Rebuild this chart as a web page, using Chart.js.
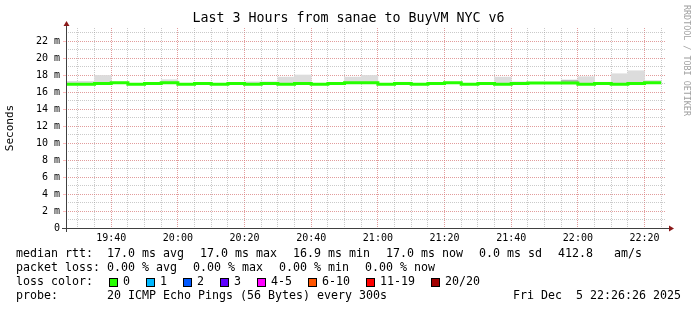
<!DOCTYPE html>
<html><head><meta charset="utf-8">
<script src="https://cdn.jsdelivr.net/npm/chart.js@4.4.1/dist/chart.umd.min.js"></script>
<style>html,body{margin:0;padding:0;background:#fff;overflow:hidden}#wrap{position:relative;width:697px;height:310px}</style>
</head><body><div id="wrap"><canvas id="c" width="697" height="310"></canvas></div>
<script>
const chartTitle = 'Last 3 Hours from sanae to BuyVM NYC v6';
const yAxisTitle = 'Seconds';
const sideText = 'RRDTOOL / TOBI OETIKER';
const axisStart = '19:26:26';
const axisEnd = '22:26:26';
const stepMinutes = 5;

const intervalStarts = ['19:25','19:30','19:35','19:40','19:45','19:50','19:55','20:00','20:05','20:10','20:15','20:20',
  '20:25','20:30','20:35','20:40','20:45','20:50','20:55','21:00','21:05','21:10','21:15','21:20',
  '21:25','21:30','21:35','21:40','21:45','21:50','21:55','22:00','22:05','22:10','22:15','22:20'];
const medianRtt = [16.9,16.9,17.0,17.1,16.9,17.0,17.1,16.9,17.0,16.9,17.0,16.9,
  17.0,16.9,17.0,16.9,17.0,17.1,17.1,16.9,17.0,16.9,17.0,17.1,
  16.9,17.0,16.9,17.0,17.05,17.05,17.05,16.9,17.0,16.9,17.0,17.1];
const smokeTop = [17.25,17.25,17.95,null,null,null,17.45,null,null,null,null,17.2,
  17.2,17.75,18.0,null,null,17.75,17.95,null,17.15,null,null,null,
  null,null,17.75,17.2,null,null,null,17.8,17.15,18.15,18.5,17.35];
const denseSmokeLow = [null,null,null,null,null,null,null,null,null,null,null,null,
  null,null,null,null,null,null,null,null,null,null,null,null,
  null,null,null,null,null,null,17.1,null,null,null,null,null];
const denseSmokeTop = [null,null,null,null,null,null,null,null,null,null,null,null,
  null,null,null,null,null,null,null,null,null,null,null,null,
  null,null,null,null,null,null,17.4,null,null,null,null,null];

const xTickLabels = ['19:40','20:00','20:20','20:40','21:00','21:20','21:40','22:00','22:20'];
const yTickValues = [0,2,4,6,8,10,12,14,16,18,20,22];
const yMinorValues = [0,1,2,3,4,5,6,7,8,9,10,11,12,13,14,15,16,17,18,19,20,21,22,23];
const yMax = 23.53;

const rttLabel = 'median rtt:';
const rttItems = ['17.0 ms avg','17.0 ms max','16.9 ms min','17.0 ms now','0.0 ms sd','412.8   am/s'];
const lossLabel = 'packet loss:';
const lossItems = ['0.00 % avg','0.00 % max','0.00 % min','0.00 % now'];
const lossColorLabel = 'loss color:';
const lossColorNames = ['0','1','2','3','4-5','6-10','11-19','20/20'];
const lossColorValues = ['#26ff00','#00b8ff','#0059ff','#5e00ff','#ff00ff','#ff5500','#ff0000','#a10000'];
const probeLabel = 'probe:';
const probeText = '20 ICMP Echo Pings (56 Bytes) every 300s';
const stampText = 'Fri Dec  5 22:26:26 2025';

function toMin(s){const p=s.split(':').map(Number);return p[0]*60+p[1]+(p[2]||0)/60;}
function fmt(m){const h=Math.floor(m/60), mm=Math.round(m-h*60);return String(h).padStart(2,'0')+':'+String(mm).padStart(2,'0');}

const medianPts = intervalStarts.map((t,i)=>({x:toMin(t),y:medianRtt[i]}));
medianPts.push({x:toMin(intervalStarts[intervalStarts.length-1])+stepMinutes,y:medianRtt[medianRtt.length-1]});
const smokePts = [];
intervalStarts.forEach((t,i)=>{ if(smokeTop[i]!=null) smokePts.push({x:toMin(t)+stepMinutes/2,y:[medianRtt[i]-0.05,smokeTop[i]]}); });
const densePts = [];
intervalStarts.forEach((t,i)=>{ if(denseSmokeTop[i]!=null) densePts.push({x:toMin(t)+stepMinutes/2,y:[denseSmokeLow[i],denseSmokeTop[i]]}); });

const MONO = "'DejaVu Sans Mono', monospace";
const minorGrid = 'rgba(150,150,150,0.5)';
const majorGrid = 'rgba(255,100,100,0.45)';

const decor = {
  id:'decor',
  afterDatasetsDraw(chart){
    const {ctx, chartArea:a} = chart;
    ctx.save();
    ctx.strokeStyle='#404040'; ctx.lineWidth=1;
    ctx.beginPath();
    ctx.moveTo(a.left-4, a.bottom+0.5); ctx.lineTo(a.right+4, a.bottom+0.5);
    ctx.moveTo(a.left+0.5, a.bottom+4); ctx.lineTo(a.left+0.5, a.top-3);
    ctx.stroke();
    ctx.fillStyle='#8b1a1a';
    ctx.beginPath();
    ctx.moveTo(a.right+3, a.bottom-2.5); ctx.lineTo(a.right+8, a.bottom+0.5); ctx.lineTo(a.right+3, a.bottom+3.5); ctx.closePath(); ctx.fill();
    ctx.beginPath();
    ctx.moveTo(a.left-2.5, a.top-2); ctx.lineTo(a.left+0.5, a.top-7); ctx.lineTo(a.left+3.5, a.top-2); ctx.closePath(); ctx.fill();
    ctx.restore();
  },
  afterDraw(chart){
    const ctx = chart.ctx;
    ctx.save();
    ctx.fillStyle='#000';
    ctx.textBaseline='middle';
    ctx.textAlign='center';
    ctx.font = "13.3px " + MONO;
    ctx.fillText(chartTitle, 348.5, 19);
    ctx.textAlign='left';
    ctx.font = "11.63px " + MONO;
    const P = 7, GAP = 16;
    let y = 254;
    ctx.fillText(rttLabel, 16, y);
    let x = 107;
    rttItems.forEach(s=>{ ctx.fillText(s, x, y); x += s.length*P + GAP; });
    y = 268;
    ctx.fillText(lossLabel, 16, y);
    x = 107;
    lossItems.forEach(s=>{ ctx.fillText(s, x, y); x += s.length*P + GAP; });
    y = 282;
    ctx.fillText(lossColorLabel, 16, y);
    x = 109;
    lossColorNames.forEach((s,i)=>{
      ctx.fillStyle = lossColorValues[i];
      ctx.fillRect(x, y-4, 8, 8);
      ctx.strokeStyle='#000'; ctx.lineWidth=1;
      ctx.strokeRect(x+0.5, y-3.5, 8, 8);
      ctx.fillStyle='#000';
      ctx.fillText(s, x+14, y);
      x += 14 + s.length*P + GAP;
    });
    y = 296;
    ctx.fillText(probeLabel, 16, y);
    ctx.fillText(probeText, 107, y);
    ctx.textAlign='right';
    ctx.fillText(stampText, 681, y);
    ctx.translate(686, 5);
    ctx.rotate(Math.PI/2);
    ctx.textAlign='left';
    ctx.fillStyle='#a0a0a0';
    ctx.font = "8.4px " + MONO;
    ctx.fillText(sideText, 0, 0);
    ctx.restore();
  }
};

new Chart(document.getElementById('c'), {
  type:'line',
  data:{datasets:[
    {type:'line', label:'median', data:medianPts, stepped:'before', borderColor:'#26ff00', borderWidth:3, pointRadius:0, fill:false, order:0, xAxisID:'x', yAxisID:'y'},
    {type:'bar', label:'dense', data:densePts, backgroundColor:'#b4b4b4', borderWidth:0, barPercentage:1, categoryPercentage:1, grouped:false, order:1, xAxisID:'x', yAxisID:'y'},
    {type:'bar', label:'smoke', data:smokePts, backgroundColor:'#dcdcdc', borderWidth:0, barPercentage:1, categoryPercentage:1, grouped:false, order:2, xAxisID:'x', yAxisID:'y'}
  ]},
  options:{
    responsive:false, animation:false, devicePixelRatio:1,
    layout:{padding:{top:28,right:31,left:0,bottom:0}},
    plugins:{legend:{display:false}, tooltip:{enabled:false}, title:{display:false}},
    scales:{
      xMinor:{type:'linear', position:'bottom', min:toMin(axisStart), max:toMin(axisEnd), offset:false, z:-1,
        afterBuildTicks(s){ const t=[]; for(const st of intervalStarts){ const v=toMin(st); if(v>s.min && v<s.max) t.push({value:v}); } const e=toMin(intervalStarts[intervalStarts.length-1])+stepMinutes; if(e<s.max) t.push({value:e}); s.ticks=t; },
        afterFit(s){ s.height=0; },
        ticks:{display:false}, grid:{color:minorGrid, drawTicks:false, offset:false}, border:{display:false, dash:[1,1]}},
      x:{type:'linear', position:'bottom', min:toMin(axisStart), max:toMin(axisEnd), offset:false,
        afterBuildTicks(s){ s.ticks = xTickLabels.map(l=>({value:toMin(l)})); },
        afterFit(s){ s.height=82; },
        ticks:{autoSkip:false, maxRotation:0, padding:2, color:'#000', font:{family:MONO, size:10}, callback:(v)=>fmt(v)},
        grid:{color:majorGrid, drawTicks:true, tickLength:2, tickColor:'rgba(0,0,0,0)', offset:false}, border:{display:false, dash:[1,1]}},
      yMinor:{type:'linear', position:'left', min:0, max:yMax, z:-1,
        afterBuildTicks(s){ s.ticks = yMinorValues.map(v=>({value:v})); },
        afterFit(s){ s.width=0; },
        ticks:{display:false}, grid:{color:minorGrid, drawTicks:false}, border:{display:false, dash:[1,1]}},
      y:{type:'linear', position:'left', min:0, max:yMax,
        afterBuildTicks(s){ s.ticks = yTickValues.map(v=>({value:v})); },
        afterFit(s){ s.width=66; },
        ticks:{autoSkip:false, padding:3, color:'#000', font:{family:MONO, size:10}, callback:(v)=> v===0?'0':v+' m'},
        title:{display:true, text:yAxisTitle, color:'#000', font:{family:MONO, size:11}, padding:{top:4,bottom:0}},
        grid:{color:majorGrid, drawTicks:true, tickLength:3, tickColor:majorGrid}, border:{display:false, dash:[1,1]}}
    }
  },
  plugins:[decor]
});
</script></body></html>
